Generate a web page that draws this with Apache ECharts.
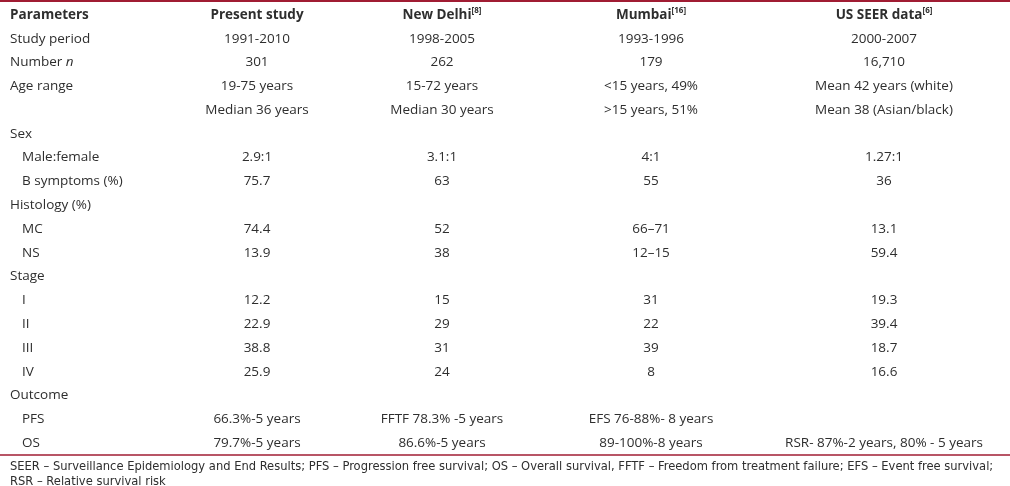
<!DOCTYPE html>
<html>
<head>
<meta charset="utf-8">
<script src="https://cdn.jsdelivr.net/npm/echarts@6/dist/echarts.min.js"></script>
<style>
html,body{margin:0;padding:0;background:#fff;}
#chart{width:1010px;height:486px;}
</style>
</head>
<body>
<div id="chart"></div>
<script>
// ---- data ----
const headers = ['Parameters', 'Present study', 'New Delhi{sup|[8]}', 'Mumbai{sup|[16]}', 'US SEER data{sup|[6]}'];
const parameters = ['Study period', 'Number {i|n}', 'Age range', '', 'Sex', 'Male:female', 'B symptoms (%)', 'Histology (%)', 'MC', 'NS', 'Stage', 'I', 'II', 'III', 'IV', 'Outcome', 'PFS', 'OS'];
const subRow = [false, false, false, false, false, true, true, false, true, true, false, true, true, true, true, false, true, true];
const presentStudy = ['1991-2010', '301', '19-75 years', 'Median 36 years', '', '2.9:1', '75.7', '', '74.4', '13.9', '', '12.2', '22.9', '38.8', '25.9', '', '66.3%-5 years', '79.7%-5 years'];
const newDelhi = ['1998-2005', '262', '15-72 years', 'Median 30 years', '', '3.1:1', '63', '', '52', '38', '', '15', '29', '31', '24', '', 'FFTF 78.3% -5 years', '86.6%-5 years'];
const mumbai = ['1993-1996', '179', '<15 years, 49%', '>15 years, 51%', '', '4:1', '55', '', '66–71', '12–15', '', '31', '22', '39', '8', '', 'EFS 76-88%- 8 years', '89-100%-8 years'];
const usSeer = ['2000-2007', '16,710', 'Mean 42 years (white)', 'Mean 38 (Asian/black)', '', '1.27:1', '36', '', '13.1', '59.4', '', '19.3', '39.4', '18.7', '16.6', '', '', 'RSR- 87%-2 years, 80% - 5 years'];
const footnote = 'SEER – Surveillance Epidemiology and End Results; PFS – Progression free survival; OS – Overall survival, FFTF – Freedom from treatment failure; EFS – Event free survival;\nRSR – Relative survival risk';

// ---- layout ----
const colX = [10, 257, 442, 651, 884];
const indent = 12;
const FONT = '"Open Sans"';
const FONT_SIZE = 13.5;
const TEXT_COLOR = '#2e2e2e';
const RULE = '#a01c33';

const columns = [parameters, presentStudy, newDelhi, mumbai, usSeer];
const rowKeys = ['h'].concat(parameters.map((_, i) => 'r' + i));

const cells = [];
headers.forEach((h, c) => cells.push({ value: [colX[c], 'h'], text: h, col: c, bold: true }));
columns.forEach((arr, c) => {
  arr.forEach((t, r) => {
    if (!t) return;
    const x = colX[c] + (c === 0 && subRow[r] ? indent : 0);
    cells.push({ value: [x, 'r' + r], text: t, col: c, bold: false });
  });
});

const chart = echarts.init(document.getElementById('chart'), null, { renderer: 'canvas' });
chart.setOption({
  animation: false,
  backgroundColor: '#ffffff',
  title: {
    text: footnote,
    left: 10,
    top: 459,
    padding: 0,
    textStyle: { fontFamily: 'DejaVu Sans Condensed', fontSize: 12.8, fontWeight: 'normal', color: TEXT_COLOR, lineHeight: 15 }
  },
  grid: { left: 0, right: 0, top: 3, height: 452 },
  xAxis: [
    { type: 'value', min: 0, max: 1010, position: 'top', offset: 2, axisLine: { show: true, lineStyle: { color: RULE, width: 2 } }, axisTick: { show: false }, axisLabel: { show: false }, splitLine: { show: false } },
    { type: 'value', min: 0, max: 1010, position: 'bottom', axisLine: { show: true, lineStyle: { color: RULE, width: 1.5 } }, axisTick: { show: false }, axisLabel: { show: false }, splitLine: { show: false } }
  ],
  yAxis: { type: 'category', data: rowKeys, inverse: true, show: false },
  series: [{
    type: 'custom',
    xAxisIndex: 0,
    data: cells,
    renderItem: function (params, api) {
      const item = cells[params.dataIndex];
      const pt = api.coord([api.value(0), item.value[1]]);
      return {
        type: 'text',
        x: pt[0],
        y: pt[1],
        style: {
          text: item.text,
          align: item.col === 0 ? 'left' : 'center',
          verticalAlign: 'middle',
          fontFamily: FONT,
          fontSize: FONT_SIZE,
          fontWeight: item.bold ? 'bold' : 'normal',
          fill: TEXT_COLOR,
          lineHeight: 17,
          rich: {
            sup: { fontFamily: FONT, fontSize: 8, fontWeight: 'bold', fill: TEXT_COLOR, verticalAlign: 'top', lineHeight: 17 },
            i: { fontFamily: FONT, fontSize: FONT_SIZE, fontStyle: 'italic', fill: TEXT_COLOR, lineHeight: 17 }
          }
        }
      };
    }
  }]
});
</script>
</body>
</html>
